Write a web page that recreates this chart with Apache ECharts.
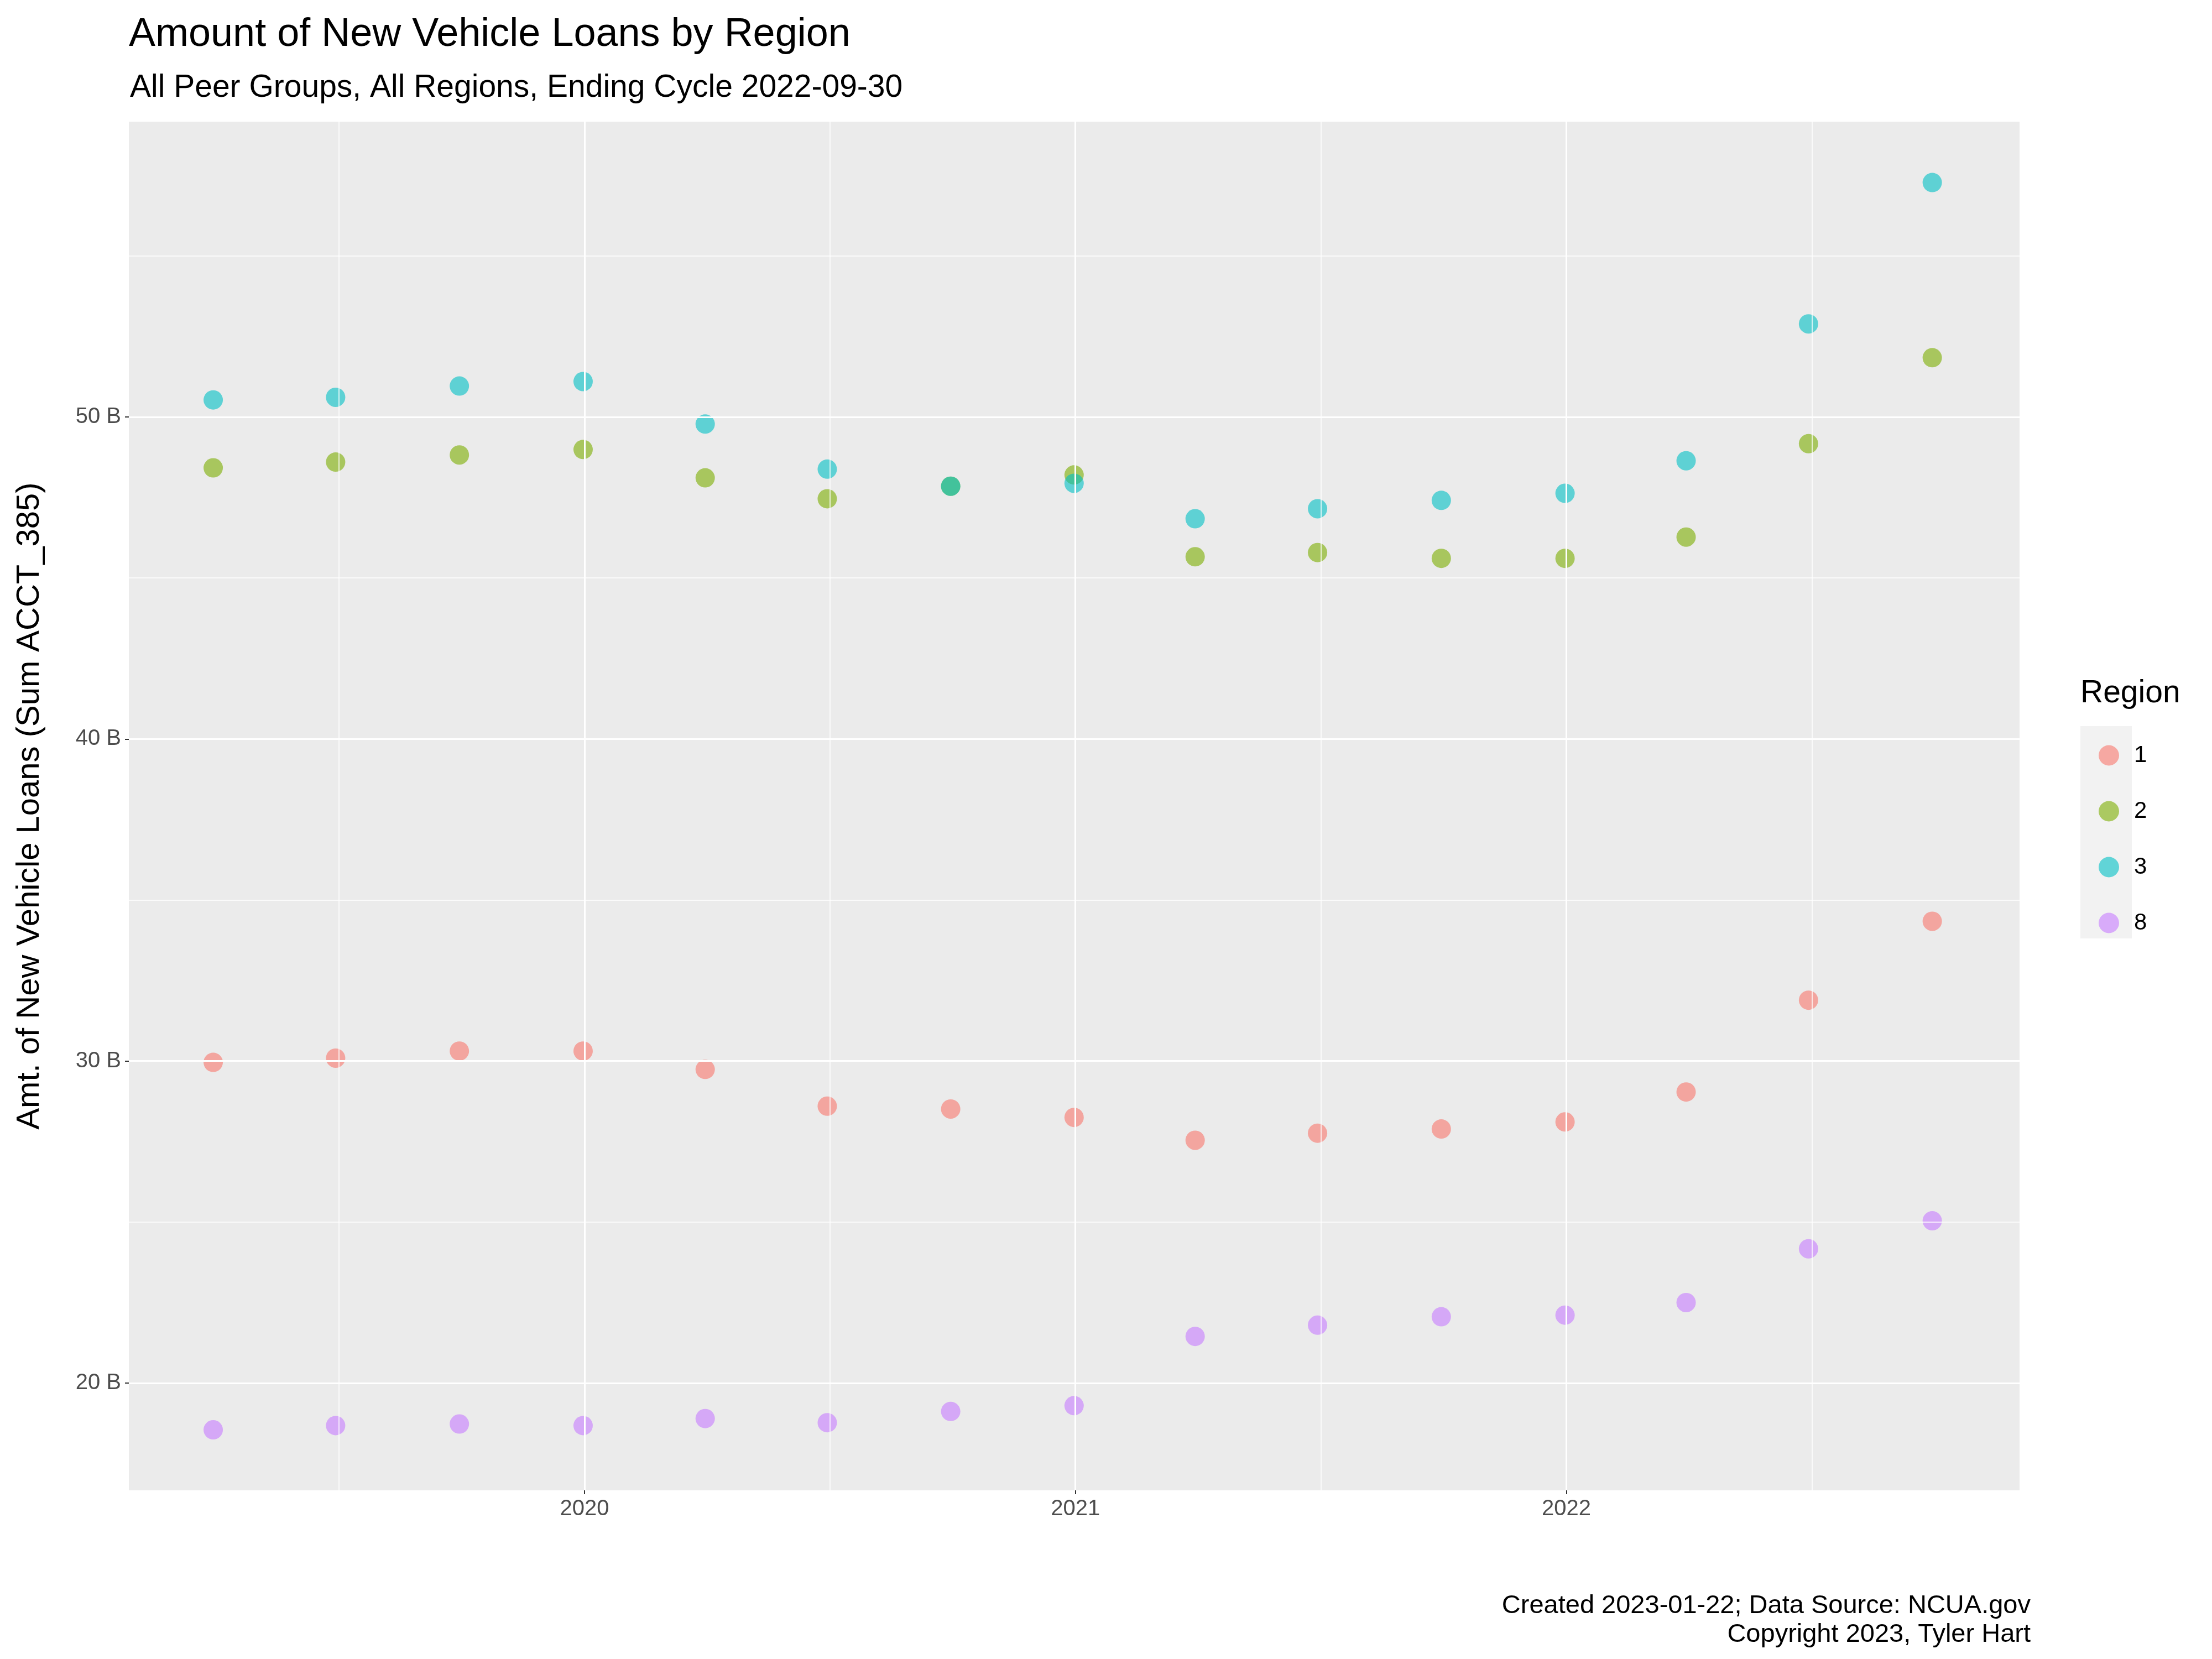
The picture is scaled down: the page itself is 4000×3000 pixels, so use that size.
<!DOCTYPE html>
<html>
<head>
<meta charset="utf-8">
<script src="https://cdn.jsdelivr.net/npm/echarts@6/dist/echarts.min.js"></script>
<style>html,body{margin:0;padding:0;background:#fff}#chart{width:4000px;height:3000px}</style>
</head>
<body>
<div id="chart"></div>
<script>
// quarter-end dates
const quarters = ["2019-03-31","2019-06-30","2019-09-30","2019-12-31","2020-03-31","2020-06-30","2020-09-30","2020-12-31",
  "2021-03-31","2021-06-30","2021-09-30","2021-12-31","2022-03-31","2022-06-30","2022-09-30"];
const regions = ["1", "2", "3", "8"];
const colors = ["#F8766D", "#7CAE00", "#00BFC4", "#C77CFF"];
// billions
const region1 = [29.96,30.09,30.31,30.31,29.74,28.60,28.51,28.25,27.54,27.76,27.89,28.11,29.04,31.89,34.34];
const region2 = [48.42,48.60,48.82,48.99,48.11,47.46,47.85,48.20,45.66,45.79,45.61,45.61,46.27,49.17,51.84];
const region3 = [50.53,50.61,50.96,51.10,49.78,48.38,47.85,47.94,46.84,47.15,47.41,47.63,48.64,52.89,57.28];
const region8 = [18.55,18.68,18.73,18.68,18.90,18.77,19.12,19.30,21.45,21.80,22.06,22.11,22.50,24.17,25.04];
const yTicks = [20, 30, 40, 50];
const yMinor = [25, 35, 45, 55];
const xTicks = [2020, 2021, 2022];
const xMinor = [2019.5, 2020.5, 2021.5, 2022.5];

function toYear(s) {
    const d = new Date(s + "T00:00:00Z");
    const y = d.getUTCFullYear();
    const start = Date.UTC(y, 0, 1), end = Date.UTC(y + 1, 0, 1);
    return y + (d.getTime() - start) / (end - start);
}
const xs = quarters.map(toYear);
const allSeries = [region1, region2, region3, region8];

const font = "Liberation Sans";
const chart = echarts.init(document.getElementById("chart"));

const gridLines = [];
xTicks.forEach(v => gridLines.push({ xAxis: v, lineStyle: { width: 3 } }));
xMinor.forEach(v => gridLines.push({ xAxis: v, lineStyle: { width: 1.5 } }));
yTicks.forEach(v => gridLines.push({ yAxis: v, lineStyle: { width: 3 } }));
yMinor.forEach(v => gridLines.push({ yAxis: v, lineStyle: { width: 1.5 } }));

const series = [{
    type: "scatter", data: [], z: 1, silent: true,
    markLine: { silent: true, symbol: "none", animation: false, label: { show: false },
        lineStyle: { color: "#fff", type: "solid" }, data: gridLines }
}];
regions.forEach((r, i) => {
    series.push({
        name: r, type: "scatter", z: 3, symbolSize: 35,
        itemStyle: { color: colors[i], opacity: 0.6 },
        data: xs.map((x, j) => [x, allSeries[i][j]])
    });
});

chart.setOption({
    animation: false,
    textStyle: { fontFamily: font },
    title: [
        { text: "Amount of New Vehicle Loans by Region", left: 228, top: 22,
          textStyle: { fontSize: 72, fontWeight: "normal", color: "#000", fontFamily: font } },
        { text: "All Peer Groups, All Regions, Ending Cycle 2022-09-30", left: 230, top: 126,
          textStyle: { fontSize: 57, fontWeight: "normal", color: "#000", fontFamily: font } }
    ],
    grid: { left: 233, right: 348, top: 220, bottom: 305, show: true, backgroundColor: "#EBEBEB", borderWidth: 0 },
    xAxis: {
        type: "value", min: 2019.072, max: 2022.923,
        axisLine: { show: false }, splitLine: { show: false },
        axisTick: { show: true, customValues: xTicks, length: 7, lineStyle: { color: "#333", width: 2 } },
        axisLabel: { customValues: xTicks, formatter: v => String(Math.round(v)), fontSize: 40, color: "#4D4D4D", margin: 14 }
    },
    yAxis: {
        type: "value", min: 16.67, max: 59.17,
        name: "Amt. of New Vehicle Loans (Sum ACCT_385)", nameLocation: "middle", nameGap: 150,
        nameTextStyle: { fontSize: 58, color: "#000" },
        axisLine: { show: false }, splitLine: { show: false },
        axisTick: { show: true, customValues: yTicks, length: 7, lineStyle: { color: "#333", width: 2 } },
        axisLabel: { customValues: yTicks, formatter: v => Math.round(v) + " B", fontSize: 40, color: "#4D4D4D", margin: 14 }
    },
    graphic: [
        { type: "text", left: 3762, top: 1226, style: { text: "Region", fontSize: 57, fill: "#000", fontFamily: font } },
        { type: "rect", left: 3762, top: 1313, shape: { width: 93, height: 384 }, style: { fill: "#F2F2F2" } },
        { type: "text", x: 3672, y: 2878, style: { text: "Created 2023-01-22; Data Source: NCUA.gov\nCopyright 2023, Tyler Hart",
          align: "right", fontSize: 47, lineHeight: 52, fill: "#000", fontFamily: font } }
    ],
    legend: {
        orient: "vertical", left: 3790, top: 1340, itemGap: 59, itemWidth: 37, itemHeight: 37,
        icon: "circle", data: regions,
        textStyle: { fontSize: 42, color: "#000", padding: [0, 0, 0, 22] }
    },
    series: series
});
</script>
</body>
</html>
